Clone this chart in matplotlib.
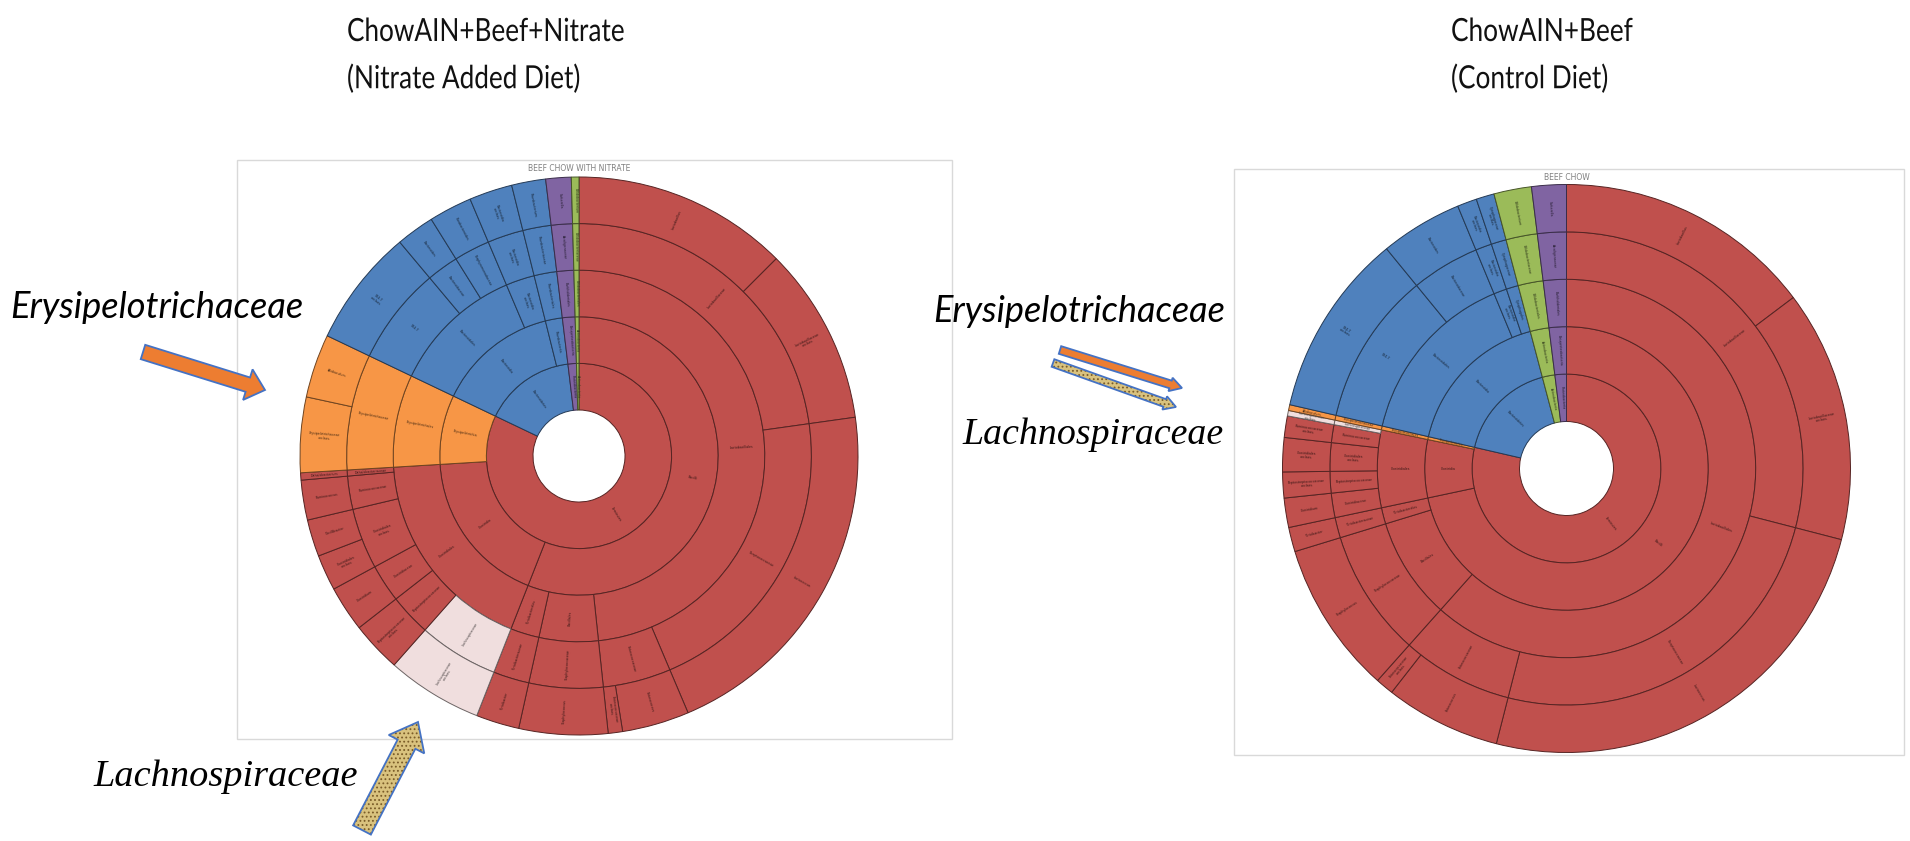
"""
Two Excel-style sunburst charts of gut taxa (nitrate-added vs control beef diet),
with the callout labels and block arrows for Erysipelotrichaceae / Lachnospiraceae.
"""

import matplotlib
matplotlib.use("Agg")
import matplotlib.pyplot as plt
import numpy as np
from matplotlib import patheffects as pe
from matplotlib.colors import to_rgb
from matplotlib.patches import Wedge, Rectangle, FancyArrow
from matplotlib.transforms import Affine2D

W, H = 1910, 841

# leaf taxa as phylum;class;order;family;genus, relative abundance in %
nitrate_lineage = [
    "Firmicutes;Bacilli;Lactobacillales;Lactobacillaceae;Lactobacillus",
    "Firmicutes;Bacilli;Lactobacillales;Lactobacillaceae;Lactobacillaceae unclass.",
    "Firmicutes;Bacilli;Lactobacillales;Streptococcaceae;Lactococcus",
    "Firmicutes;Bacilli;Lactobacillales;Enterococcaceae;Enterococcus",
    "Firmicutes;Bacilli;Lactobacillales;Enterococcaceae;Enterococcaceae unclass.",
    "Firmicutes;Bacilli;Bacillales;Staphylococcaceae;Staphylococcus",
    "Firmicutes;Bacilli;Turicibacterales;Turicibacteraceae;Turicibacter",
    "Firmicutes;Clostridia;Clostridiales;Lachnospiraceae;Lachnospiraceae unclass.",
    "Firmicutes;Clostridia;Clostridiales;Peptostreptococcaceae;Peptostreptococcaceae unclass.",
    "Firmicutes;Clostridia;Clostridiales;Clostridiaceae;Clostridium",
    "Firmicutes;Clostridia;Clostridiales;Clostridiales unclass.;Clostridiales unclass.",
    "Firmicutes;Clostridia;Clostridiales;Clostridiales unclass.;Oscillibacter",
    "Firmicutes;Clostridia;Clostridiales;Ruminococcaceae;Ruminococcus",
    "Firmicutes;Clostridia;Clostridiales;Dehalobacteriaceae;Dehalobacterium",
    "Firmicutes;Erysipelotrichia;Erysipelotrichales;Erysipelotrichaceae;Erysipelotrichaceae unclass.",
    "Firmicutes;Erysipelotrichia;Erysipelotrichales;Erysipelotrichaceae;Allobaculum",
    "Bacteroidetes;Bacteroidia;Bacteroidales;S24-7;S24-7 unclass.",
    "Bacteroidetes;Bacteroidia;Bacteroidales;Bacteroidaceae;Bacteroides",
    "Bacteroidetes;Bacteroidia;Bacteroidales;Porphyromonadaceae;Parabacteroides",
    "Bacteroidetes;Bacteroidia;Bacteroidia unclass.;Bacteroidia unclass.;Bacteroidia unclass.",
    "Bacteroidetes;Flavobacteriia;Flavobacteriales;Flavobacteriaceae;Flavobacterium",
    "Proteobacteria;Betaproteobacteria;Burkholderiales;Alcaligenaceae;Sutterella",
    "Actinobacteria;Actinobacteria;Bifidobacteriales;Bifidobacteriaceae;Bifidobacterium",
]
nitrate_pct = [12.50, 10.28, 20.83, 3.89, 0.83, 5.14, 2.50,
               5.56, 2.92, 2.64, 2.08, 2.14, 2.31, 0.42,
               4.36, 3.69,
               6.81, 2.22, 2.50, 2.50, 1.97,
               1.47, 0.44]

control_lineage = [
    "Firmicutes;Bacilli;Lactobacillales;Lactobacillaceae;Lactobacillus",
    "Firmicutes;Bacilli;Lactobacillales;Lactobacillaceae;Lactobacillaceae unclass.",
    "Firmicutes;Bacilli;Lactobacillales;Streptococcaceae;Lactococcus",
    "Firmicutes;Bacilli;Lactobacillales;Enterococcaceae;Enterococcus",
    "Firmicutes;Bacilli;Lactobacillales;Enterococcaceae;Enterococcaceae unclass.",
    "Firmicutes;Bacilli;Bacillales;Staphylococcaceae;Staphylococcus",
    "Firmicutes;Bacilli;Turicibacterales;Turicibacteraceae;Turicibacter",
    "Firmicutes;Clostridia;Clostridiales;Clostridiaceae;Clostridium",
    "Firmicutes;Clostridia;Clostridiales;Peptostreptococcaceae;Peptostreptococcaceae unclass.",
    "Firmicutes;Clostridia;Clostridiales;Clostridiales unclass.;Clostridiales unclass.",
    "Firmicutes;Clostridia;Clostridiales;Ruminococcaceae;Ruminococcaceae unclass.",
    "Firmicutes;Clostridia;Clostridiales;Lachnospiraceae;Lachnospiraceae unclass.",
    "Firmicutes;Erysipelotrichia;Erysipelotrichales;Erysipelotrichaceae;Allobaculum",
    "Bacteroidetes;Bacteroidia;Bacteroidales;S24-7;S24-7 unclass.",
    "Bacteroidetes;Bacteroidia;Bacteroidales;Bacteroidaceae;Bacteroides",
    "Bacteroidetes;Bacteroidia;Bacteroidia unclass.;Bacteroidia unclass.;Bacteroidia unclass.",
    "Bacteroidetes;Bacteroidia;Cytophagales;Cytophagaceae;Cytophagaceae unclass.",
    "Actinobacteria;Actinobacteria;Bifidobacteriales;Bifidobacteriaceae;Bifidobacterium",
    "Proteobacteria;Betaproteobacteria;Burkholderiales;Alcaligenaceae;Sutterella",
]
control_pct = [14.72, 14.31, 24.94, 6.58, 1.03, 8.69, 1.39,
               1.67, 1.47, 1.94, 1.22, 0.31,
               0.33,
               10.47, 4.67, 1.11, 1.03,
               2.14, 1.97]

group_colors = {
    "Firmicutes": "#C0504D",
    "Bacteroidetes": "#4F81BD",
    "Proteobacteria": "#8064A2",
    "Actinobacteria": "#9BBB59",
    "Erysipelotrichia": "#F79646",
    "Lachnospiraceae": "#F0DEDE",
}


def pick_color(path):
    # deepest highlighted group wins
    for name in reversed(path):
        if name in group_colors:
            return group_colors[name]
    return "#999999"


def shade(color, f):
    return tuple(np.array(to_rgb(color)) * f)


def draw_sunburst(ax, cx, cy, r_hole, r_out, lineage, pct):
    paths = [s.split(";") for s in lineage]
    total = float(sum(pct))
    ring_w = (r_out - r_hole) / 5
    for level in range(5):
        # merge neighbouring leaves that share the path down to this rank
        segs = []
        start = 0.0
        for path, v in zip(paths, pct):
            key = tuple(path[:level + 1])
            if segs and segs[-1][0] == key:
                segs[-1][2] += v
            else:
                segs.append([key, start, v])
            start += v
        r1 = r_hole + ring_w * (level + 1)
        for key, s, v in segs:
            a1 = 360 * s / total
            a2 = 360 * (s + v) / total
            fc = pick_color(key)
            ax.add_patch(Wedge((cx, cy), r1, a1 - 90, a2 - 90, width=ring_w,
                               facecolor=fc, edgecolor=shade(fc, 0.45), lw=0.7))
            if a2 - a1 < 1.0:
                continue
            am = np.radians((a1 + a2) / 2)
            rm = r1 - ring_w / 2
            rot = (90 - np.degrees(am) + 90) % 180 - 90
            ax.text(cx + rm * np.sin(am), cy - rm * np.cos(am),
                    key[-1].replace(" unclass.", "\nunclass."),
                    rotation=rot, rotation_mode="anchor", ha="center", va="center",
                    fontsize=2.3, linespacing=0.9, color=shade(fc, 0.3))


class Squeeze(pe.AbstractPathEffect):
    """Narrow the glyphs horizontally about display x0 (titles are condensed)."""

    def __init__(self, sx, x0):
        super().__init__()
        self.sx, self.x0 = sx, x0

    def draw_path(self, renderer, gc, tpath, affine, rgbFace=None):
        squeeze = Affine2D().translate(-self.x0, 0).scale(self.sx, 1).translate(self.x0, 0)
        renderer.draw_path(gc, tpath, affine + squeeze, rgbFace)


def fit_text(ax, x, y, s, width, **kw):
    t = ax.text(x, y, s, fontsize=20, **kw)
    w = t.get_window_extent(ax.figure.canvas.get_renderer()).width
    t.set_fontsize(20 * width / w)
    return t


def title_block(ax, x, y1, y2, line1, line2, width, size=23):
    kw = dict(family="Lato", fontsize=size, ha="left", va="center", color="#111111")
    t1 = ax.text(x, y1, line1, **kw)
    t2 = ax.text(x, y2, line2, **kw)
    w = t1.get_window_extent(ax.figure.canvas.get_renderer()).width
    for t in (t1, t2):
        t.set_path_effects([Squeeze(width / w, x)])


def block_arrow(ax, tail, tip, width, head_w, head_l, face, hatched=False):
    dx, dy = tip[0] - tail[0], tip[1] - tail[1]
    kw = dict(width=width, head_width=head_w, head_length=head_l,
              length_includes_head=True)
    if hatched:
        ax.add_patch(FancyArrow(tail[0], tail[1], dx, dy, facecolor=face,
                                edgecolor="#7a5c28", hatch="....", lw=0, **kw))
        ax.add_patch(FancyArrow(tail[0], tail[1], dx, dy, fill=False,
                                edgecolor="#4472C4", lw=1.3, **kw))
    else:
        ax.add_patch(FancyArrow(tail[0], tail[1], dx, dy, facecolor=face,
                                edgecolor="#4472C4", lw=1.3, **kw))


plt.rcParams["hatch.linewidth"] = 0.8

fig = plt.figure(figsize=(W / 100, H / 100), dpi=100)
ax = fig.add_axes([0, 0, 1, 1])
ax.set_xlim(0, W)
ax.set_ylim(H, 0)
ax.axis("off")

# chart frames
ax.add_patch(Rectangle((237, 160), 715, 579, fill=False, edgecolor="#d9d9d9", lw=1))
ax.add_patch(Rectangle((1234, 169), 670, 586, fill=False, edgecolor="#d9d9d9", lw=1))

draw_sunburst(ax, 579, 456, 46, 279, nitrate_lineage, nitrate_pct)
draw_sunburst(ax, 1566.5, 468.5, 47, 284, control_lineage, control_pct)

ax.text(579, 168, "BEEF CHOW WITH NITRATE", ha="center", va="center",
        fontsize=5.5, color="#808080")
ax.text(1566.5, 177.5, "BEEF CHOW", ha="center", va="center",
        fontsize=5.5, color="#808080")

# titles (condensed in the original)
title_block(ax, 347, 32, 79, "ChowAIN+Beef+Nitrate", "(Nitrate Added Diet)", 278)
title_block(ax, 1451, 32, 79, "ChowAIN+Beef", "(Control Diet)", 182)

# callouts
fit_text(ax, 10, 308, "Erysipelotrichaceae", 293, family="Lato", style="italic",
         ha="left", va="center", color="black")
fit_text(ax, 933, 312, "Erysipelotrichaceae", 292, family="Lato", style="italic",
         ha="left", va="center", color="black")
fit_text(ax, 93, 777, "Lachnospiraceae", 264, family="Liberation Serif", style="italic",
         ha="left", va="center", color="black")
fit_text(ax, 962, 435, "Lachnospiraceae", 261, family="Liberation Serif", style="italic",
         ha="left", va="center", color="black")

block_arrow(ax, (143, 352), (265, 390), 15, 32, 18, "#ED7D31")
block_arrow(ax, (362, 830), (418, 722), 20, 40, 25, "#D9C27E", hatched=True)
block_arrow(ax, (1060, 350), (1182, 388), 8, 14, 12, "#ED7D31")
block_arrow(ax, (1053, 363), (1176, 407), 8, 14, 12, "#D9C27E", hatched=True)

fig.savefig("out.png", dpi=100, facecolor="white")
